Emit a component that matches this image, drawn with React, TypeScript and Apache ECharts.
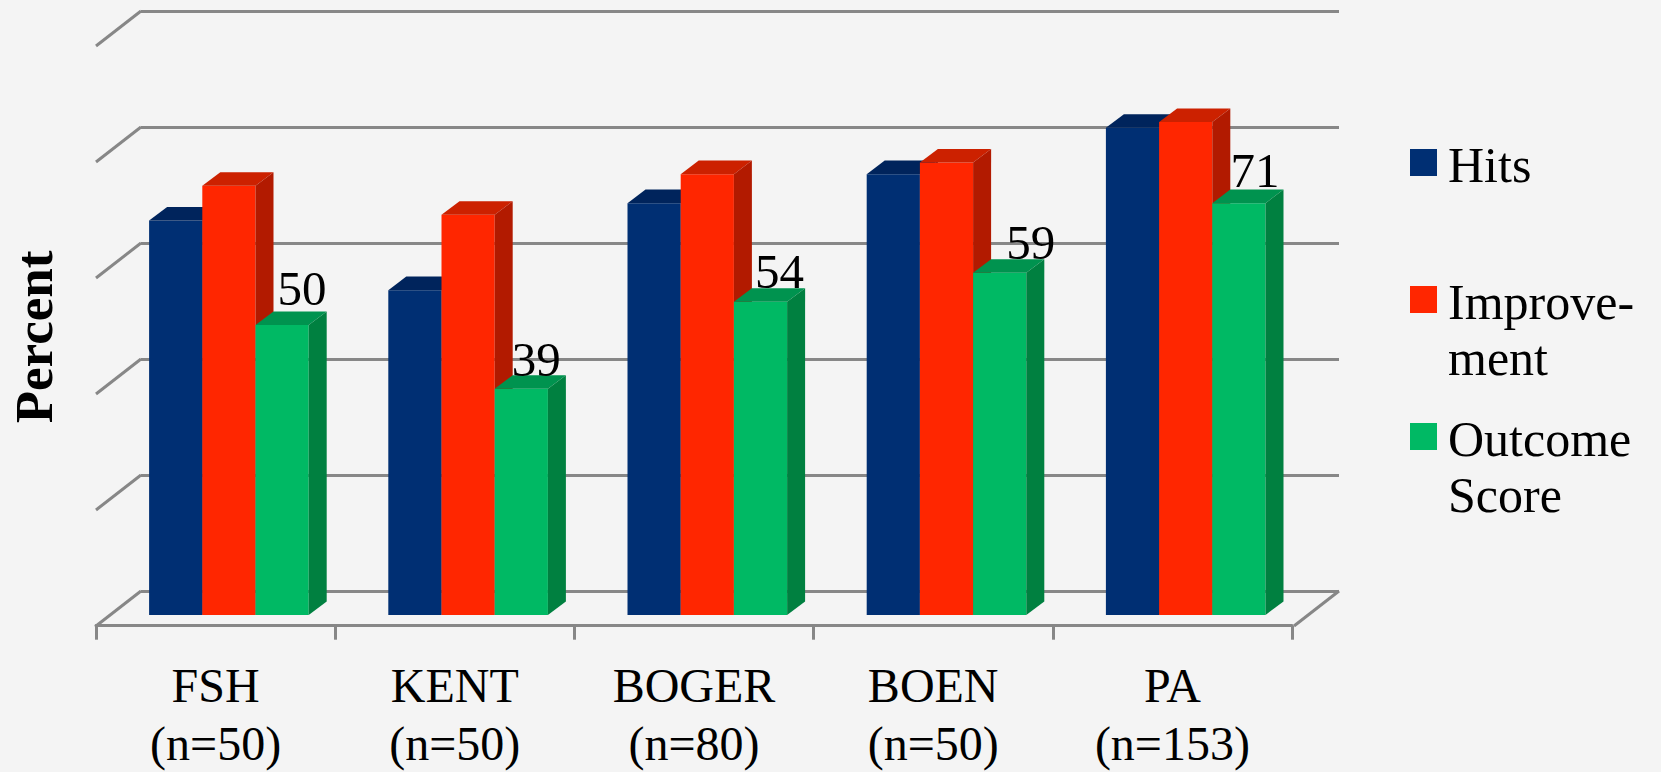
import React, { useEffect, useRef } from "react";
import * as echarts from "echarts";

const categories = ["FSH\n(n=50)", "KENT\n(n=50)", "BOGER\n(n=80)", "BOEN\n(n=50)", "PA\n(n=153)"];
const hits = [68, 56, 71, 76, 84];
const improvement = [74, 69, 76, 78, 85];
const outcomeScore = [50, 39, 54, 59, 71];
const percentTicks = [0, 20, 40, 60, 80, 100];
const legendLabels = ["Hits", "Improve-\nment", "Outcome\nScore"];

const FONT = '"Liberation Serif", serif';
const GRID_LINE = "#878787";
const BG = "#f4f4f4";

// Shades of each box: front face, top face, side face.
const shades = [
  { front: "#002f73", top: "#00245c", side: "#00245c" },
  { front: "#ff2600", top: "#cc2100", side: "#b21a00" },
  { front: "#00b964", top: "#00934f", side: "#008040" },
];

const BAR_WIDTH = 53.2;
const CLUSTER_SHIFT = 13.3;
const BOX_DX = 18;
const BOX_DY = 13.6;
const WALL_DX = 45;
const WALL_DY = 35;
// Where each value caption sits relative to its bar's top edge.
const captionShiftX = [20, 15, 19, 31, 16];
const captionShiftY = [-37, -29, -30, -30, -33];

function boxSeries(name: string, values: number[], index: number, captions: boolean) {
  const s = shades[index];
  return {
    type: "custom",
    name,
    xAxisIndex: 0,
    yAxisIndex: 0,
    silent: true,
    data: values.map((v, i) => [i, v]),
    renderItem(_p: any, api: any) {
      const cat = api.value(0);
      const val = api.value(1);
      const top = api.coord([cat, val]);
      const base = api.coord([cat, 0]);
      const x = top[0] + CLUSTER_SHIFT + (index - 1.5) * BAR_WIDTH;
      const r = x + BAR_WIDTH;
      const children: any[] = [
        {
          type: "rect",
          shape: { x, y: top[1], width: BAR_WIDTH, height: base[1] - top[1] },
          style: { fill: s.front },
        },
        {
          type: "polygon",
          shape: {
            points: [
              [x, top[1]],
              [x + BOX_DX, top[1] - BOX_DY],
              [r + BOX_DX, top[1] - BOX_DY],
              [r, top[1]],
            ],
          },
          style: { fill: s.top },
        },
        {
          type: "polygon",
          shape: {
            points: [
              [r, top[1]],
              [r + BOX_DX, top[1] - BOX_DY],
              [r + BOX_DX, base[1] - BOX_DY],
              [r, base[1]],
            ],
          },
          style: { fill: s.side },
        },
      ];
      if (captions) {
        children.push({
          type: "text",
          x: x + BAR_WIDTH / 2 + captionShiftX[cat],
          y: top[1] + captionShiftY[cat],
          style: {
            text: String(val),
            font: `49px ${FONT}`,
            fill: "#000",
            align: "center",
            verticalAlign: "middle",
          },
        });
      }
      return { type: "group", children };
    },
  };
}

// Slanted side-wall strokes, plus the floor's right edge, drawn on the back wall's axis.
const wallSeries = {
  type: "custom",
  xAxisIndex: 1,
  yAxisIndex: 1,
  silent: true,
  data: percentTicks.map((t) => [0, t]),
  renderItem(params: any, api: any) {
    const tick = api.value(1);
    const y = api.coord([0, tick])[1];
    const cs = params.coordSys;
    const stroke = { stroke: GRID_LINE, lineWidth: 3, fill: "none" };
    const children: any[] = [
      {
        type: "line",
        shape: { x1: cs.x, y1: y, x2: cs.x - WALL_DX, y2: y + WALL_DY },
        style: stroke,
      },
    ];
    if (tick === 0) {
      const right = cs.x + cs.width;
      children.push({
        type: "line",
        shape: { x1: right, y1: y, x2: right - WALL_DX, y2: y + WALL_DY },
        style: stroke,
      });
    }
    return { type: "group", children };
  },
};

const swatchTops = [149, 286, 423];
const legendGraphics = legendLabels.flatMap((label, i) => [
  {
    type: "rect",
    shape: { x: 1410, y: swatchTops[i], width: 27, height: 27 },
    style: { fill: shades[i].front },
  },
  {
    type: "text",
    x: 1448,
    y: swatchTops[i] - 12,
    style: {
      text: label,
      font: `50px ${FONT}`,
      lineHeight: 56,
      fill: "#000",
      align: "left",
      verticalAlign: "top",
    },
  },
]);

const hiddenValueAxis = {
  type: "value",
  min: 0,
  max: 100,
  interval: 20,
  axisLine: { show: false },
  axisTick: { show: false },
  axisLabel: { show: false },
  splitLine: { show: false },
};

export default function App() {
  const ref = useRef<HTMLDivElement>(null);
  useEffect(() => {
    const chart = echarts.init(ref.current!, undefined, { renderer: "svg" });
    chart.setOption({
      animation: false,
      backgroundColor: BG,
      grid: [
        // Plane of the box fronts.
        { left: 96, top: 35, width: 1196, height: 580, outerBoundsMode: "none" },
        // Back wall.
        { left: 141, top: 11, width: 1198, height: 580, outerBoundsMode: "none" },
        // Front edge of the floor, which carries the category axis.
        { left: 96, top: 45.7, width: 1196, height: 580, outerBoundsMode: "none" },
      ],
      xAxis: [
        { type: "category", gridIndex: 0, data: categories, show: false },
        { type: "category", gridIndex: 1, data: categories, show: false },
        {
          type: "category",
          gridIndex: 2,
          data: categories,
          axisLine: { lineStyle: { color: GRID_LINE, width: 3 } },
          axisTick: { show: true, length: 14, lineStyle: { color: GRID_LINE, width: 3 } },
          axisLabel: {
            color: "#000",
            fontFamily: FONT,
            fontSize: 48,
            lineHeight: 58,
            margin: 31,
            interval: 0,
          },
        },
      ],
      yAxis: [
        {
          ...hiddenValueAxis,
          gridIndex: 0,
          name: "Percent",
          nameLocation: "middle",
          nameGap: 36,
          nameRotate: 90,
          nameTextStyle: {
            color: "#000",
            fontFamily: FONT,
            fontSize: 53,
            fontWeight: "bold",
            padding: [0, 24, 0, 0],
          },
        },
        {
          ...hiddenValueAxis,
          gridIndex: 1,
          splitLine: { show: true, lineStyle: { color: GRID_LINE, width: 3 } },
        },
        { ...hiddenValueAxis, gridIndex: 2 },
      ],
      graphic: legendGraphics,
      series: [
        wallSeries,
        boxSeries("Hits", hits, 0, false),
        boxSeries("Improvement", improvement, 1, false),
        boxSeries("Outcome Score", outcomeScore, 2, true),
      ],
    });
    return () => chart.dispose();
  }, []);
  return (
    <div
      ref={ref}
      style={{ position: "fixed", left: 0, top: 0, width: 1661, height: 772, background: BG }}
    />
  );
}
